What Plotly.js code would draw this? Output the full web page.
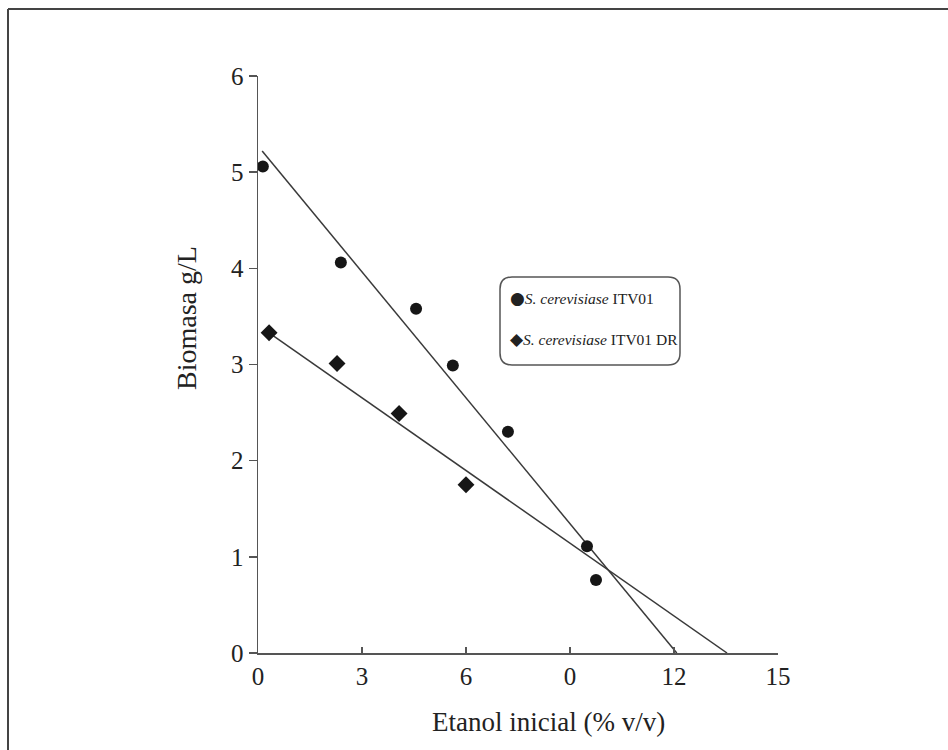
<!DOCTYPE html>
<html>
<head>
<meta charset="utf-8">
<script src="https://cdn.plot.ly/plotly-3.0.1.min.js"></script>
<style>html,body{margin:0;padding:0;background:#fff;}#chart{width:948px;height:750px;}</style>
</head>
<body>
<div id="chart"></div>
<script>
// ---- data ----
const seriesNames = ['S. cerevisiase ITV01', 'S. cerevisiase ITV01 DR'];
const circleX = [0.14, 2.39, 4.56, 5.62, 7.21, 9.49, 9.75];
const circleY = [5.06, 4.06, 3.58, 2.99, 2.30, 1.11, 0.76];
const diamondX = [0.32, 2.28, 4.07, 6.0];
const diamondY = [3.33, 3.01, 2.49, 1.75];
const trendCircleX = [0.12, 12.08];
const trendCircleY = [5.22, 0];
const trendDiamondX = [0.32, 13.53];
const trendDiamondY = [3.33, 0];
const xTickVals = [0, 3, 6, 9, 12, 15];
const xTickText = ['0', '3', '6', '0', '12', '15'];
const yTickVals = [0, 1, 2, 3, 4, 5, 6];
const xTitle = 'Etanol inicial (% v/v)';
const yTitle = 'Biomasa g/L';

// ---- layout helpers (pixel -> paper) ----
const L = 258, R = 778, T = 76, B = 653;
const px = x => (x - L) / (R - L);
const py = y => (B - y) / (B - T);

const serif = 'Liberation Serif, Times New Roman, serif';
const ink = '#161616';
const axisCol = '#555555';

const traces = [
  {x: trendCircleX, y: trendCircleY, mode: 'lines', line: {color: '#3a3a3a', width: 1.5}, showlegend: false, hoverinfo: 'skip'},
  {x: trendDiamondX, y: trendDiamondY, mode: 'lines', line: {color: '#3a3a3a', width: 1.5}, showlegend: false, hoverinfo: 'skip'},
  {x: circleX, y: circleY, mode: 'markers', name: seriesNames[0], marker: {symbol: 'circle', size: 12, color: ink}, showlegend: false},
  {x: diamondX, y: diamondY, mode: 'markers', name: seriesNames[1], marker: {symbol: 'diamond', size: 13, color: ink}, showlegend: false}
];

function rounded(x0, y0, x1, y1, r) {
  const rx = r / (R - L), ry = r / (B - T);
  const X0 = px(x0), X1 = px(x1), Y0 = py(y1), Y1 = py(y0);
  return `M ${X0 + rx},${Y1} L ${X1 - rx},${Y1} Q ${X1},${Y1} ${X1},${Y1 - ry} L ${X1},${Y0 + ry} Q ${X1},${Y0} ${X1 - rx},${Y0} L ${X0 + rx},${Y0} Q ${X0},${Y0} ${X0},${Y0 + ry} L ${X0},${Y1 - ry} Q ${X0},${Y1} ${X0 + rx},${Y1} Z`;
}

function legendLabel(sym, name) {
  const parts = name.split(' ');
  return '<span style="font-family:DejaVu Sans;font-size:17px">' + sym + '</span><i>' + parts[0] + ' ' + parts[1] + '</i> ' + parts.slice(2).join(' ');
}

const layout = {
  width: 948, height: 750,
  paper_bgcolor: '#ffffff', plot_bgcolor: 'rgba(0,0,0,0)',
  margin: {l: L, r: 948 - R, t: T, b: 750 - B, pad: 0},
  showlegend: false,
  font: {family: serif, color: '#222'},
  xaxis: {
    range: [0, 15], tickvals: xTickVals, ticktext: xTickText,
    ticks: 'inside', ticklen: 6, tickwidth: 1.5, tickcolor: axisCol,
    showline: true, linecolor: axisCol, linewidth: 1.5,
    showgrid: false, zeroline: false,
    tickfont: {family: serif, size: 25, color: '#222'},
    ticklabelstandoff: 0
  },
  yaxis: {
    range: [0, 6], tickvals: yTickVals,
    ticks: 'outside', ticklen: 8, tickwidth: 1.5, tickcolor: axisCol,
    showline: true, linecolor: axisCol, linewidth: 1.5,
    showgrid: false, zeroline: false,
    tickfont: {family: serif, size: 25, color: '#222'}
  },
  shapes: [
    {type: 'line', xref: 'paper', yref: 'paper', x0: px(8), x1: px(948), y0: py(9), y1: py(9), line: {color: '#444', width: 2}},
    {type: 'line', xref: 'paper', yref: 'paper', x0: px(8), x1: px(8), y0: py(9), y1: py(750), line: {color: '#444', width: 2}},
    {type: 'path', xref: 'paper', yref: 'paper', path: rounded(500, 277, 680, 365, 12), line: {color: '#555', width: 1.5}, fillcolor: 'rgba(0,0,0,0)'}
  ],
  annotations: [
    {xref: 'paper', yref: 'paper', x: px(548), y: py(722), text: xTitle, showarrow: false, xanchor: 'center', yanchor: 'middle', font: {family: serif, size: 27, color: '#222'}},
    {xref: 'paper', yref: 'paper', x: px(186), y: py(318), text: yTitle, textangle: -90, showarrow: false, xanchor: 'center', yanchor: 'middle', font: {family: serif, size: 28, color: '#222'}},
    {xref: 'paper', yref: 'paper', x: px(508), y: py(298), text: legendLabel('●', seriesNames[0]), showarrow: false, xanchor: 'left', yanchor: 'middle', font: {family: serif, size: 15.5, color: '#222'}},
    {xref: 'paper', yref: 'paper', x: px(508), y: py(339), text: legendLabel('◆', seriesNames[1]), showarrow: false, xanchor: 'left', yanchor: 'middle', font: {family: serif, size: 15.5, color: '#222'}}
  ]
};

Plotly.newPlot('chart', traces, layout, {displayModeBar: false, staticPlot: true});
</script>
</body>
</html>
